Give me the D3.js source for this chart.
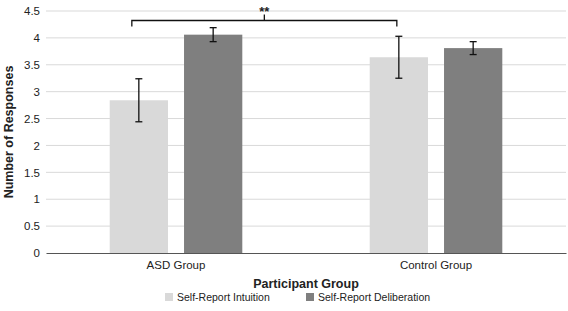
<!DOCTYPE html>
<html lang="en">
<head>
    <meta charset="UTF-8">
    <title>Self-Report by Participant Group</title>
    <script src="https://d3js.org/d3.v7.min.js"></script>
    <style>
        body { margin: 0; background: #fff; }
        text { font-family: "Liberation Sans", Arial, sans-serif; fill: #222; }
        .tick text { font-size: 11.5px; }
        .title { font-weight: bold; font-size: 12.5px; }
    </style>
</head>
<body>
    <svg width="568" height="311"></svg>
    <script>
        // data
        const groups = ["ASD Group", "Control Group"];
        const seriesNames = ["Self-Report Intuition", "Self-Report Deliberation"];
        const intuition = [2.84, 3.64];
        const deliberation = [4.06, 3.81];
        const intuitionErr = [0.40, 0.39];
        const deliberationErr = [0.13, 0.12];
        const yTicks = [0, 0.5, 1, 1.5, 2, 2.5, 3, 3.5, 4, 4.5];
        const colors = ["#d9d9d9", "#7f7f7f"];

        const svg = d3.select("svg");
        const margin = {top: 11, right: 2, bottom: 58, left: 46};
        const width = +svg.attr("width") - margin.left - margin.right;
        const height = +svg.attr("height") - margin.top - margin.bottom;
        const g = svg.append("g").attr("transform", `translate(${margin.left},${margin.top})`);

        const x0 = d3.scaleBand().domain(groups).range([0, width]).paddingInner(0.49).paddingOuter(0.245);
        const x1 = d3.scaleBand().domain([0, 1]).range([0, x0.bandwidth()]).paddingInner(0.216);
        const y = d3.scaleLinear().domain([0, 4.5]).range([height, 0]);

        // gridlines
        g.append("g")
            .selectAll("line")
            .data(yTicks.filter(d => d > 0))
            .join("line")
            .attr("x1", 0).attr("x2", width)
            .attr("y1", d => y(d)).attr("y2", d => y(d))
            .attr("stroke", "#d9d9d9").attr("stroke-width", 1);

        // y axis
        const yAxis = g.append("g")
            .call(d3.axisLeft(y).tickValues(yTicks).tickSize(0).tickPadding(6).tickFormat(d3.format("")));
        yAxis.select(".domain").remove();

        const rows = groups.map((grp, i) => ({
            grp,
            vals: [
                {s: 0, v: intuition[i], e: intuitionErr[i]},
                {s: 1, v: deliberation[i], e: deliberationErr[i]}
            ]
        }));

        const grpG = g.selectAll(".grp").data(rows).join("g")
            .attr("transform", d => `translate(${x0(d.grp)},0)`);

        grpG.selectAll("rect").data(d => d.vals).join("rect")
            .attr("x", d => x1(d.s))
            .attr("y", d => y(d.v))
            .attr("width", x1.bandwidth())
            .attr("height", d => height - y(d.v))
            .attr("fill", d => colors[d.s]);

        // error bars
        const eb = grpG.selectAll(".err").data(d => d.vals).join("g").attr("class", "err")
            .attr("stroke", "#111").attr("stroke-width", 1.3);
        const cx = d => x1(d.s) + x1.bandwidth() / 2;
        eb.append("line").attr("x1", cx).attr("x2", cx)
            .attr("y1", d => y(d.v + d.e)).attr("y2", d => y(d.v - d.e));
        eb.append("line").attr("x1", d => cx(d) - 3.5).attr("x2", d => cx(d) + 3.5)
            .attr("y1", d => y(d.v + d.e)).attr("y2", d => y(d.v + d.e));
        eb.append("line").attr("x1", d => cx(d) - 3.5).attr("x2", d => cx(d) + 3.5)
            .attr("y1", d => y(d.v - d.e)).attr("y2", d => y(d.v - d.e));

        // x axis
        const xAxis = g.append("g")
            .attr("transform", `translate(0,${height})`)
            .call(d3.axisBottom(x0).tickSize(0).tickPadding(8));
        xAxis.select(".domain").attr("stroke", "#555").attr("stroke-width", 1.2);

        // significance bracket
        const bx1 = x0(groups[0]) + x1(0) + x1.bandwidth() / 2 - 7;
        const bx2 = x0(groups[1]) + x1(0) + x1.bandwidth() / 2 - 2;
        const by = 9.5;
        g.append("path")
            .attr("d", `M${bx1},${by + 6}V${by}H${bx2}V${by + 6}M${(bx1 + bx2) / 2},${by}V${by - 6}`)
            .attr("fill", "none").attr("stroke", "#111").attr("stroke-width", 1.3);
        g.append("text")
            .attr("x", (bx1 + bx2) / 2).attr("y", by - 5)
            .attr("text-anchor", "middle")
            .style("font-size", "13px").style("font-weight", "bold")
            .text("**");

        // axis titles
        svg.append("text").attr("class", "title")
            .attr("transform", `translate(13,${margin.top + height / 2}) rotate(-90)`)
            .attr("text-anchor", "middle")
            .text("Number of Responses");
        svg.append("text").attr("class", "title")
            .attr("x", margin.left + width / 2).attr("y", 288)
            .attr("text-anchor", "middle")
            .text("Participant Group");

        // legend
        const legX = [165, 306];
        const leg = svg.selectAll(".leg").data(seriesNames).join("g")
            .attr("transform", (d, i) => `translate(${legX[i]},301)`);
        leg.append("rect").attr("x", 0).attr("y", -8).attr("width", 8).attr("height", 8)
            .attr("fill", (d, i) => colors[i]);
        leg.append("text").attr("x", 12).attr("y", 0)
            .style("font-size", "10.5px")
            .text(d => d);
    </script>
</body>
</html>
